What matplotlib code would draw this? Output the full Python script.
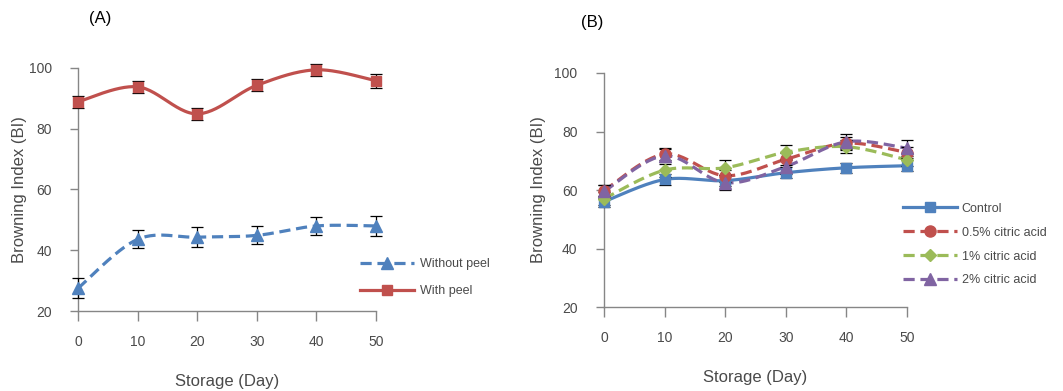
import numpy as np
import matplotlib
matplotlib.use("Agg")
import matplotlib.pyplot as plt

plt.rcParams['font.family'] = ['Liberation Sans', 'DejaVu Sans']

days = [0, 10, 20, 30, 40, 50]

# panel A
with_peel = [88.9, 93.8, 84.9, 94.3, 99.4, 95.8]
with_peel_err = [2.0, 2.0, 2.0, 2.0, 2.0, 2.3]
without_peel = [27.5, 43.6, 44.3, 44.9, 48.0, 48.0]
without_peel_err = [3.2, 3.0, 3.2, 3.0, 3.0, 3.2]

# panel B
control = [56.0, 63.6, 63.2, 65.9, 67.6, 68.3]
control_err = [1.8, 1.8, 1.8, 1.8, 1.8, 1.8]
ca05 = [59.8, 72.3, 64.9, 70.5, 76.0, 72.8]
ca05_err = [2.0, 2.0, 2.0, 2.0, 2.0, 2.0]
ca1 = [57.0, 66.8, 67.6, 72.9, 74.8, 70.3]
ca1_err = [2.2, 2.2, 2.5, 2.5, 2.2, 2.2]
ca2 = [59.5, 71.7, 62.5, 68.0, 76.5, 74.3]
ca2_err = [2.2, 2.2, 2.5, 2.5, 2.8, 2.8]

BLUE = '#4F81BD'
RED = '#C0504D'
GREEN = '#9BBB59'
PURPLE = '#8064A2'
SPINE = '#868686'
TXT = '#4a4a4a'


def smooth(x, y, n=30):
    # Catmull-Rom style curve like Excel's smoothed line
    x = np.asarray(x, float)
    y = np.asarray(y, float)
    px = np.concatenate([[x[0]], x, [x[-1]]])
    py = np.concatenate([[y[0]], y, [y[-1]]])
    xs, ys = [], []
    t = np.linspace(0, 1, n)
    for i in range(1, len(px) - 2):
        p0, p1, p2, p3 = [np.array([px[j], py[j]]) for j in (i - 1, i, i + 1, i + 2)]
        c1 = p1 + (p2 - p0) / 6.0
        c2 = p2 - (p3 - p1) / 6.0
        b = ((1 - t) ** 3)[:, None] * p1 + (3 * (1 - t) ** 2 * t)[:, None] * c1 \
            + (3 * (1 - t) * t ** 2)[:, None] * c2 + (t ** 3)[:, None] * p2
        xs.extend(b[:, 0])
        ys.extend(b[:, 1])
    return np.array(xs), np.array(ys)


def draw(ax, y, err, color, marker, ls, label, ms=7):
    sx, sy = smooth(days, y)
    dash = (3.5, 1.8) if ls == '--' else (None, None)
    ax.plot(sx, sy, color=color, lw=2.3, ls=ls, dashes=dash, clip_on=False, zorder=2)
    ax.errorbar(days, y, yerr=err, fmt='none', ecolor='black', elinewidth=0.9,
                capsize=4, capthick=0.9, clip_on=False, zorder=3)
    ax.plot(days, y, ls='none', marker=marker, ms=ms, color=color, clip_on=False, zorder=4)
    # legend proxy
    ax.plot([], [], color=color, lw=2.3, ls=ls, marker=marker, ms=ms, dashes=dash, label=label)


def style(ax):
    ax.set_xlim(0, 50)
    ax.set_ylim(20, 100)
    ax.set_xticks(days)
    ax.set_yticks([20, 40, 60, 80, 100])
    for s in ['top', 'right']:
        ax.spines[s].set_visible(False)
    for s in ['left', 'bottom']:
        ax.spines[s].set_color(SPINE)
        ax.spines[s].set_linewidth(1.0)
    ax.tick_params(axis='y', direction='out', length=6, width=1, color=SPINE,
                   labelsize=10, labelcolor=TXT, pad=13)
    ax.tick_params(axis='x', direction='out', length=7, width=1, color=SPINE,
                   labelsize=10, labelcolor=TXT, pad=10)
    ax.set_ylabel('Browning Index (BI)', fontsize=12, color=TXT)
    ax.set_xlabel('Storage (Day)', fontsize=12, color=TXT, labelpad=18)


fig = plt.figure(figsize=(10.63, 3.91), dpi=100)
axA = fig.add_axes([0.0734, 0.2046, 0.2803, 0.6215])
axB = fig.add_axes([0.5682, 0.2148, 0.2850, 0.5985])

draw(axA, without_peel, without_peel_err, BLUE, '^', '--', 'Without peel', ms=8)
draw(axA, with_peel, with_peel_err, RED, 's', '-', 'With peel')
style(axA)
axA.yaxis.labelpad = 1
axA.legend(loc='lower left', bbox_to_anchor=(0.91, 0.01), frameon=False, fontsize=9,
           handlelength=4.3, handletextpad=0.5, labelspacing=1.2, labelcolor=TXT)

draw(axB, control, control_err, BLUE, 's', '-', 'Control')
draw(axB, ca05, ca05_err, RED, 'o', '--', '0.5% citric acid', ms=8)
draw(axB, ca1, ca1_err, GREEN, 'D', '--', '1% citric acid', ms=6)
draw(axB, ca2, ca2_err, PURPLE, '^', '--', '2% citric acid', ms=8)
style(axB)
axB.yaxis.labelpad = 6
axB.legend(loc='lower left', bbox_to_anchor=(0.95, 0.04), frameon=False, fontsize=9,
           handlelength=4.3, handletextpad=0.4, labelspacing=0.95, labelcolor=TXT)

fig.text(100 / 1063, 1 - 18 / 391, '(A)', fontsize=12, ha='center', va='center', color='black')
fig.text(592 / 1063, 1 - 23 / 391, '(B)', fontsize=12, ha='center', va='center', color='black')

fig.savefig('out.png', dpi=100)
